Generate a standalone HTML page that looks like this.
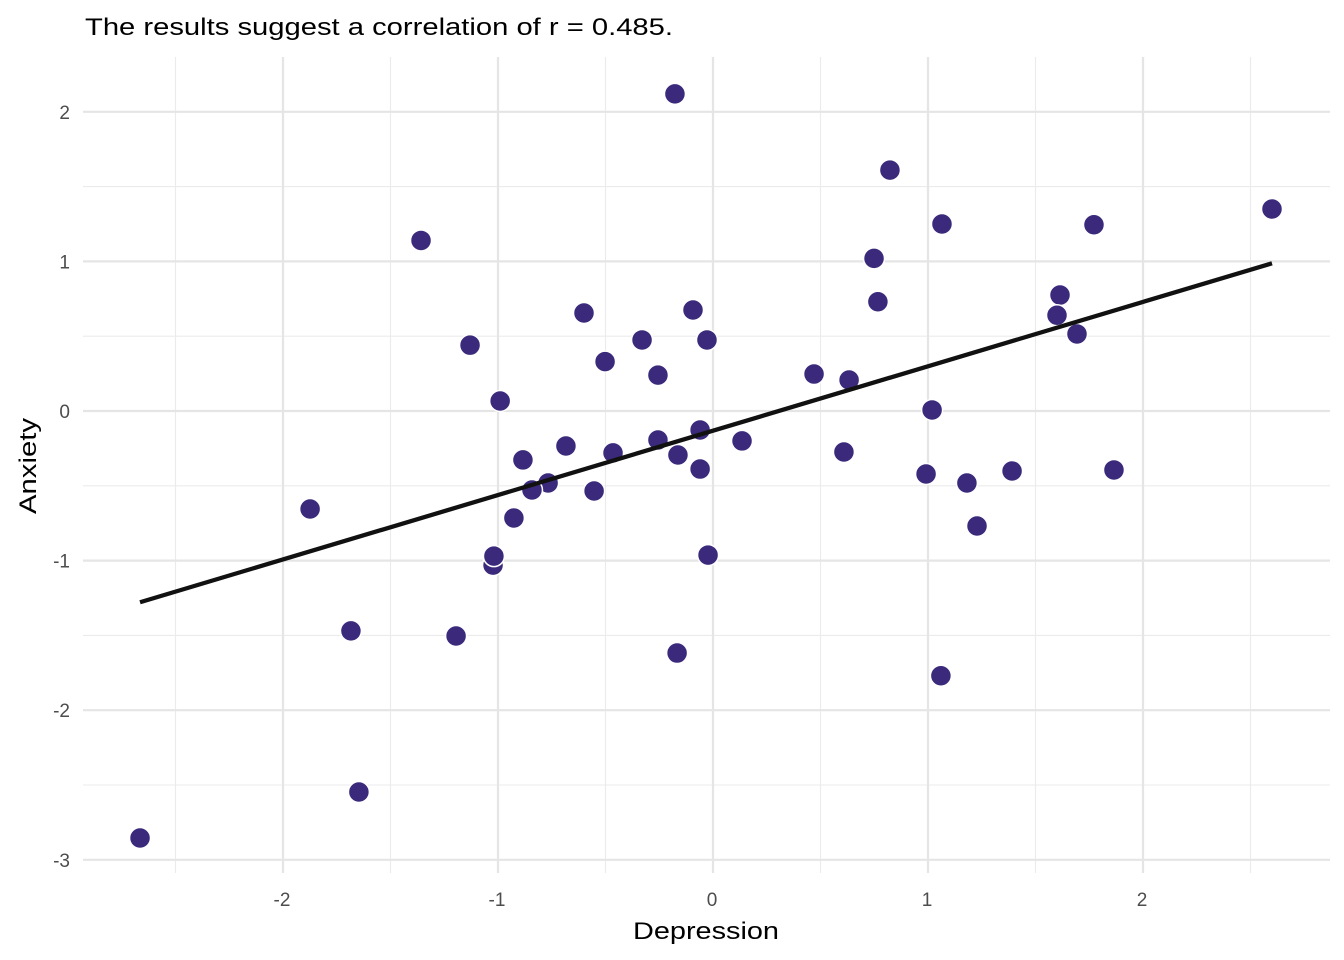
<!DOCTYPE html>
<html><head><meta charset="utf-8">
<style>
html,body{margin:0;padding:0;background:#fff;}
svg{display:block;font-family:"Liberation Sans",Arial,sans-serif;}
</style></head>
<body>
<svg id="chart" width="1344" height="960">
<text x="85" y="35" font-size="24" textLength="588" lengthAdjust="spacingAndGlyphs" fill="#000">The results suggest a correlation of r = 0.485.</text>
<g id="grid"></g>
<g id="ticks"></g>
<g id="points"></g>
<g id="fit"></g>
<text x="633" y="939" font-size="24" textLength="146" lengthAdjust="spacingAndGlyphs" fill="#000">Depression</text>
<text transform="translate(36,514) rotate(-90)" font-size="24" textLength="96" lengthAdjust="spacingAndGlyphs" fill="#000">Anxiety</text>
</svg>
<script>
const depression = [-0.177,0.823,1.065,1.772,2.6,-1.358,0.749,0.767,1.614,1.6,1.693,-0.6,-0.093,-0.33,-0.028,-1.13,-0.502,-0.256,0.47,0.633,-0.99,1.019,-0.06,0.135,-0.256,-0.684,-0.465,-0.163,-0.884,0.609,-0.06,0.991,1.391,1.865,1.181,-0.767,-0.842,-0.553,-0.926,1.228,-1.874,-1.023,-1.019,-0.023,-1.684,-1.195,-0.167,1.06,-1.647,-2.665];
const anxiety = [2.12,1.61,1.25,1.245,1.35,1.14,1.02,0.73,0.775,0.64,0.515,0.655,0.675,0.475,0.475,0.44,0.33,0.24,0.247,0.207,0.067,0.007,-0.127,-0.2,-0.194,-0.234,-0.28,-0.294,-0.327,-0.274,-0.388,-0.421,-0.401,-0.394,-0.481,-0.481,-0.528,-0.535,-0.715,-0.769,-0.655,-1.03,-0.97,-0.963,-1.47,-1.504,-1.618,-1.77,-2.547,-2.854];
const xTicks = [-2,-1,0,1,2];
const yTicks = [-3,-2,-1,0,1,2];
const xMinor = [-2.5,-1.5,-0.5,0.5,1.5,2.5];
const yMinor = [-2.5,-1.5,-0.5,0.5,1.5];

const NS="http://www.w3.org/2000/svg";
const L=83,R=1330,T=57,B=873;
const sx=v=>713+v*215;
const sy=v=>411-v*149.6;
function mk(tag,attrs,parent){const e=document.createElementNS(NS,tag);for(const k in attrs)e.setAttribute(k,attrs[k]);parent.appendChild(e);return e;}
const grid=document.getElementById('grid'),ticks=document.getElementById('ticks'),pts=document.getElementById('points'),fit=document.getElementById('fit');
xMinor.forEach(v=>{const e=mk('line',{x1:sx(v),x2:sx(v),y1:T,y2:B,stroke:'#ebebeb','stroke-width':1.1},grid);

});
yMinor.forEach(v=>{const e=mk('line',{x1:L,x2:R,y1:sy(v),y2:sy(v),stroke:'#ebebeb','stroke-width':1.1},grid);

});
xTicks.forEach(v=>{const e=mk('line',{x1:sx(v),x2:sx(v),y1:T,y2:B,stroke:'#e5e5e5','stroke-width':2.2},grid);


const t=mk('text',{x:sx(v)-1,y:906,'font-size':19,'text-anchor':'middle',fill:'#4d4d4d'},ticks);t.textContent=String(v);

});
yTicks.forEach(v=>{const e=mk('line',{x1:L,x2:R,y1:sy(v),y2:sy(v),stroke:'#e5e5e5','stroke-width':2.2},grid);


const t=mk('text',{x:70,y:sy(v)+7,'font-size':19,'text-anchor':'end',fill:'#4d4d4d'},ticks);t.textContent=String(v);

});
depression.forEach((d,i)=>{const c=mk('circle',{cx:sx(d),cy:sy(anxiety[i]),r:10.5,fill:'#3b2a7b',stroke:'#fff','stroke-width':1.5},pts);

});
const n=depression.length;
const mx=depression.reduce((a,b)=>a+b,0)/n,my=anxiety.reduce((a,b)=>a+b,0)/n;
let sxy=0,sxx=0;for(let i=0;i<n;i++){sxy+=(depression[i]-mx)*(anxiety[i]-my);sxx+=(depression[i]-mx)**2;}
const slope=sxy/sxx,icpt=my-slope*mx;
const x0=Math.min(...depression),x1=Math.max(...depression);
const ln=mk('line',{x1:sx(x0),y1:sy(icpt+slope*x0),x2:sx(x1),y2:sy(icpt+slope*x1),stroke:'#111','stroke-width':4.3},fit);


</script>
</body></html>
